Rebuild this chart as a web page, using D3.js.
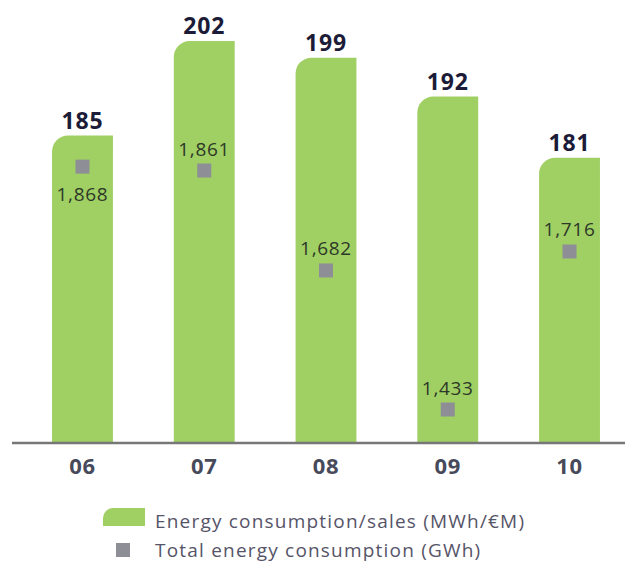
<!DOCTYPE html>
<html>
<head>
<meta charset="utf-8">
<script src="https://cdn.jsdelivr.net/npm/d3@7"></script>
<style>
  body { margin: 0; background: #fff; }
  svg { display: block; font-family: "Open Sans", sans-serif; }
</style>
</head>
<body>
<svg width="625" height="565"></svg>
<script>
var years = ["06", "07", "08", "09", "10"];
var intensity = [185, 202, 199, 192, 181];      // MWh/€M
var totalGwh = [1868, 1861, 1682, 1433, 1716];  // GWh
var legendLabels = ["Energy consumption/sales (MWh/€M)", "Total energy consumption (GWh)"];

var svg = d3.select("svg");
var baseY = 443, topY = 41;
var green = "#a0cf64", grey = "#8e8e96";

var x = d3.scaleBand().domain(years).range([21.6, 630.4]).paddingInner(0.5).paddingOuter(0.25);
var y = d3.scaleLinear().domain([129.7, 202]).range([baseY, topY]);
var y2 = d3.scaleLinear().domain([1373, 2093]).range([baseY, topY]);

// bar with rounded top-left corner only
function barPath(x0, y0, w, h, r) {
    return "M" + x0 + "," + (y0 + h) +
        "V" + (y0 + r) +
        "A" + r + "," + r + " 0 0 1 " + (x0 + r) + "," + y0 +
        "H" + (x0 + w) +
        "V" + (y0 + h) + "Z";
}

var data = years.map(function (d, i) {
    return {year: d, v: intensity[i], t: totalGwh[i]};
});

svg.selectAll(".bar")
    .data(data)
    .enter().append("path")
    .attr("class", "bar")
    .attr("fill", green)
    .attr("d", function (d) {
        return barPath(x(d.year), y(d.v), x.bandwidth(), baseY - y(d.v), 16);
    });

svg.selectAll(".val")
    .data(data)
    .enter().append("text")
    .attr("x", function (d) { return x(d.year) + x.bandwidth() / 2; })
    .attr("y", function (d) { return y(d.v) - 7; })
    .attr("text-anchor", "middle")
    .attr("font-size", 23)
    .attr("font-weight", "bold")
    .attr("letter-spacing", 0.8)
    .attr("fill", "#1c1c38")
    .text(function (d) { return d.v; });

svg.selectAll(".sq")
    .data(data)
    .enter().append("rect")
    .attr("x", function (d) { return x(d.year) + x.bandwidth() / 2 - 7; })
    .attr("y", function (d) { return y2(d.t) - 7; })
    .attr("width", 14)
    .attr("height", 14)
    .attr("fill", grey);

svg.selectAll(".tlab")
    .data(data)
    .enter().append("text")
    .attr("x", function (d) { return x(d.year) + x.bandwidth() / 2; })
    .attr("y", function (d) {
        var below = y2(d.t) - y(d.v) < 40;
        return below ? y2(d.t) + 34 : y2(d.t) - 15;
    })
    .attr("text-anchor", "middle")
    .attr("font-size", 19)
    .attr("letter-spacing", 0.7)
    .attr("fill", "#2e3828")
    .text(function (d) { return d3.format(",")(d.t); });

// axis
var axis = svg.append("g")
    .attr("transform", "translate(0," + baseY + ")")
    .call(d3.axisBottom(x).tickSize(0).tickPadding(15));
axis.select(".domain").remove();
axis.append("line")
    .attr("x1", 12).attr("x2", 625)
    .attr("stroke", "#777").attr("stroke-width", 2.5);
axis.selectAll("text")
    .attr("font-family", "Open Sans, sans-serif")
    .attr("font-size", 22)
    .attr("font-weight", "bold")
    .attr("letter-spacing", 0.6)
    .attr("fill", "#474a5a")
    .attr("dy", "0.71em");

// legend
var lg = svg.append("g");
lg.append("path").attr("fill", green).attr("d", barPath(103, 508, 42, 18, 10));
lg.append("rect").attr("x", 116).attr("y", 543).attr("width", 14).attr("height", 14).attr("fill", grey);
lg.selectAll("text")
    .data(legendLabels)
    .enter().append("text")
    .attr("x", 155)
    .attr("y", function (d, i) { return 528 + i * 29; })
    .attr("font-size", 19)
    .attr("letter-spacing", 1.2)
    .attr("fill", "#565468")
    .text(function (d) { return d; });
</script>
</body>
</html>
